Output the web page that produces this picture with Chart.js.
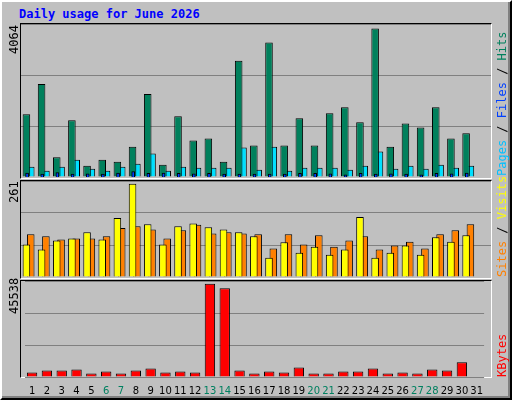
<!DOCTYPE html>
<html>
<head>
<meta charset="utf-8">
<script src="https://cdn.jsdelivr.net/npm/chart.js@4"></script>
<style>
  body { margin: 0; background: #fff; overflow: hidden; }
  #frame { position: absolute; left: 0; top: 0; width: 508px; height: 396px; background: #c0c0c0;
           border-top: 2px solid #fff; border-left: 2px solid #fff; border-right: 2px solid #000; border-bottom: 2px solid #000; }
  #inner { position: absolute; left: 0; top: 0; width: 506px; height: 394px; border-right: 2px solid #808080; border-bottom: 2px solid #808080; }
  #title { position: absolute; left: 19px; top: 7px; font: bold 12px "DejaVu Sans Mono", monospace; color: #0000ff; }
  .panel { position: absolute; left: 20px; width: 470px; background: #c0c0c0;
           border-top: 1px solid #000; border-left: 1px solid #000; border-right: 1px solid #fff; border-bottom: 1px solid #fff; }
  .box { position: absolute; left: 21px; width: 470px; }
  .vlab { position: absolute; font: 12px "DejaVu Sans Mono", monospace; transform: rotate(-90deg); transform-origin: left top; white-space: nowrap; }
</style>
</head>
<body>
<div id="frame"><div id="inner"></div></div>
<div id="title">Daily usage for June 2026</div>

<div class="panel" style="top:23px;height:154px"></div>
<div class="panel" style="top:180px;height:97px"></div>
<div class="panel" style="top:280px;height:96px"></div>

<div class="box" style="top:24px;height:153px"><canvas id="c1"></canvas></div>
<div class="box" style="top:24px;height:153px"><canvas id="c1p"></canvas></div>
<div class="box" style="top:181px;height:96px"><canvas id="c2"></canvas></div>
<div class="box" style="top:281px;height:124px"><canvas id="c3"></canvas></div>

<div class="vlab" style="left:7px;top:54px">4064</div>
<div class="vlab" style="left:7px;top:203px">261</div>
<div class="vlab" style="left:7px;top:314px">45538</div>

<div class="vlab" style="left:495px;top:176px"><span style="color:#00c0ff">Pages</span> / <span style="color:#0040ff">Files</span> / <span style="color:#00805c">Hits</span></div>
<div class="vlab" style="left:495px;top:277px"><span style="color:#ff8000">Sites</span> / <span style="color:#ffff00">Visits</span></div>
<div class="vlab" style="left:495px;top:377px"><span style="color:#ff0000">KBytes</span></div>

<script>
const days = ['1','2','3','4','5','6','7','8','9','10','11','12','13','14','15','16','17','18','19','20','21','22','23','24','25','26','27','28','29','30','31'];
const weekendDays = ['6','7','13','14','20','21','27','28'];

const hits = [1714, 2544, 540, 1550, 305, 470, 415, 830, 2270, 335, 1660, 1000, 1055, 415, 3180, 860, 3680, 860, 1610, 860, 1745, 1910, 1500, 4064, 830, 1465, 1355, 1910, 1055, 1195, 0];
const files = [280, 170, 280, 470, 225, 170, 280, 360, 640, 170, 280, 255, 255, 255, 805, 200, 830, 170, 255, 255, 255, 200, 310, 695, 225, 310, 225, 335, 255, 310, 0];
const pages = [110, 80, 120, 80, 90, 80, 110, 150, 100, 110, 100, 90, 100, 80, 80, 80, 80, 80, 100, 100, 90, 60, 100, 80, 90, 80, 60, 100, 90, 110, 0];

const sites = [91, 77, 102, 108, 125, 105, 165, 261, 148, 91, 142, 150, 139, 133, 125, 114, 54, 97, 68, 85, 62, 77, 168, 54, 68, 88, 62, 111, 99, 117, 0];
const visits = [120, 114, 105, 108, 108, 114, 137, 142, 133, 108, 131, 146, 122, 125, 122, 120, 80, 120, 91, 117, 85, 102, 114, 77, 88, 99, 80, 120, 131, 148, 0];

const kbytes = [2200, 3200, 3200, 3700, 1700, 2700, 1700, 3200, 4200, 2200, 2700, 2200, 45538, 43400, 3200, 1700, 2700, 2200, 4700, 1700, 1700, 2700, 2700, 4200, 1700, 2200, 1700, 3700, 3200, 7200, 0];

Chart.defaults.animation = false;
Chart.defaults.devicePixelRatio = 1;
Chart.defaults.plugins.legend.display = false;
Chart.defaults.plugins.tooltip.enabled = false;
Chart.defaults.maintainAspectRatio = false;

function yScale(maxVal, showGrid) {
    const top = maxVal * 1.03;
    return {
        min: 0, max: top,
        ticks: { display: false, stepSize: top / 3 },
        grid: { display: showGrid !== false, color: '#808080', drawTicks: false },
        border: { display: false }
    };
}

const hiddenX = { display: false, offset: true };
const pair = { borderColor: '#000', borderWidth: 1, categoryPercentage: 0.57, barPercentage: 1.75 };

// Hits / Files
new Chart(document.getElementById('c1'), {
    type: 'bar',
    data: {
        labels: days,
        datasets: [
            { ...pair, data: hits, backgroundColor: '#00805c' },
            { ...pair, data: files, backgroundColor: '#00e0ff' }
        ]
    },
    options: { layout: { padding: 0 }, scales: { x: hiddenX, y: yScale(Math.max(...hits)) } }
});

// Pages drawn over the hits bars
new Chart(document.getElementById('c1p'), {
    type: 'bar',
    data: {
        labels: days,
        datasets: [
            { data: pages, backgroundColor: '#0040ff', borderColor: '#000', borderWidth: 1, barThickness: 3 },
            { data: [], barThickness: 3 }
        ]
    },
    options: {
        layout: { padding: 0 },
        scales: {
            x: { display: false, offset: true, grouped: true },
            y: yScale(Math.max(...hits), false)
        },
        datasets: { bar: { categoryPercentage: 0.3 } }
    }
});

// Sites / Visits
new Chart(document.getElementById('c2'), {
    type: 'bar',
    data: {
        labels: days,
        datasets: [
            { ...pair, data: sites, backgroundColor: '#ffff00' },
            { ...pair, data: visits, backgroundColor: '#ff8000' }
        ]
    },
    options: { layout: { padding: 0 }, scales: { x: hiddenX, y: yScale(Math.max(...sites)) } }
});

// KBytes
new Chart(document.getElementById('c3'), {
    type: 'bar',
    data: {
        labels: days,
        datasets: [
            { data: kbytes, backgroundColor: '#ff0000', borderColor: '#000', borderWidth: 1, categoryPercentage: 1, barPercentage: 0.7 }
        ]
    },
    options: {
        layout: { padding: 0 },
        scales: {
            x: {
                offset: true,
                grid: { display: false, drawTicks: false },
                border: { display: false },
                ticks: {
                    maxRotation: 0, autoSkip: false, padding: 8,
                    font: { family: 'DejaVu Sans', size: 10 },
                    color: ctx => weekendDays.includes(days[ctx.index]) ? '#008060' : '#000'
                }
            },
            y: yScale(Math.max(...kbytes))
        }
    }
});
</script>
</body>
</html>
